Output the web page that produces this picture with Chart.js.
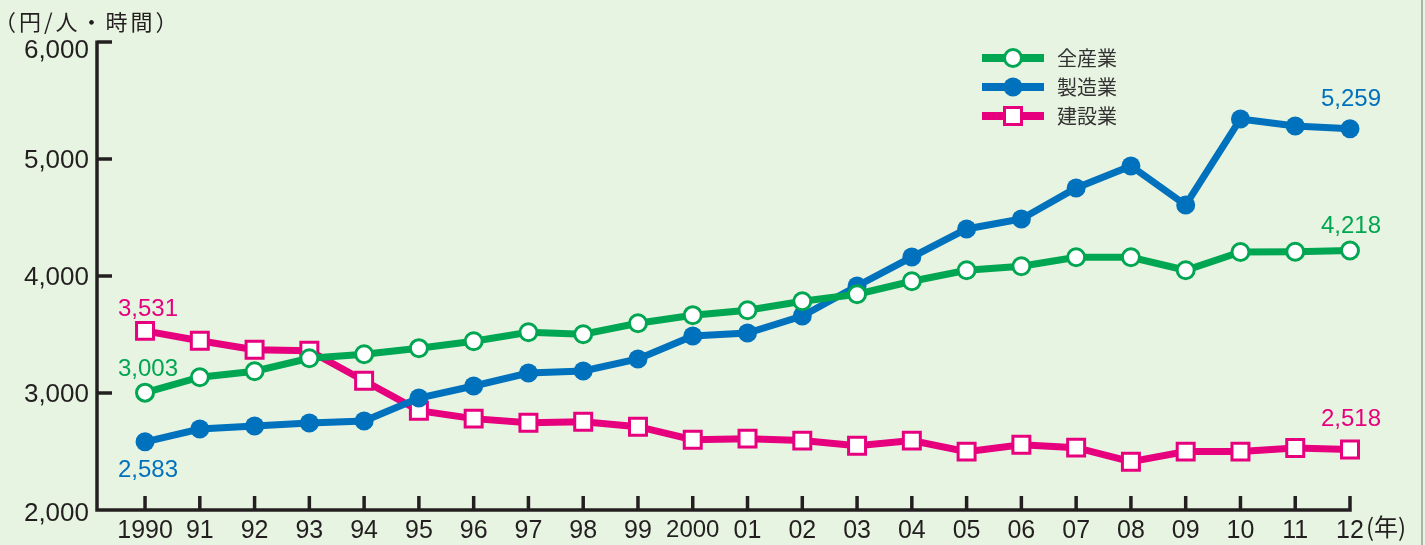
<!DOCTYPE html>
<html lang="ja">
<head>
<meta charset="utf-8">
<title>労働生産性の推移</title>
<script src="https://cdn.jsdelivr.net/npm/chart.js@4"></script>
<style>
  html, body { margin: 0; padding: 0; background: #e8f4e2; }
  #wrap { position: relative; width: 1425px; height: 545px; }
  #wrap::after { content: ""; position: absolute; top: 0; right: 2px; width: 2px; height: 100%; background: #a9b3a6; }
</style>
</head>
<body>
<div id="wrap"><canvas id="chart"></canvas></div>
<script>
/* Labour productivity per hour, yen — all industries / manufacturing / construction. */

const YEARS = [1990, 1991, 1992, 1993, 1994, 1995, 1996, 1997, 1998, 1999, 2000, 2001,
               2002, 2003, 2004, 2005, 2006, 2007, 2008, 2009, 2010, 2011, 2012];
const YEAR_LABELS = ["1990", "91", "92", "93", "94", "95", "96", "97", "98", "99", "2000", "01",
                     "02", "03", "04", "05", "06", "07", "08", "09", "10", "11", "12"];
const ALL_INDUSTRY  = [3003, 3135, 3186, 3297, 3331, 3383, 3442, 3519, 3502, 3596, 3665, 3707,
                       3784, 3844, 3955, 4049, 4083, 4160, 4160, 4049, 4205, 4207, 4218];
const MANUFACTURING = [2583, 2692, 2718, 2744, 2761, 2957, 3060, 3171, 3188, 3291, 3487, 3513,
                       3658, 3915, 4162, 4402, 4487, 4752, 4940, 4607, 5342, 5282, 5259];
const CONSTRUCTION  = [3531, 3447, 3370, 3362, 3105, 2849, 2781, 2746, 2755, 2712, 2601, 2610,
                       2593, 2550, 2593, 2499, 2558, 2533, 2413, 2499, 2499, 2530, 2518];
const SERIES_NAMES = ["全産業", "製造業", "建設業"];
const Y_TICKS = [2000, 3000, 4000, 5000, 6000];
const Y_UNIT = "（円/人・時間）";
const X_UNIT = "(年)";

const INK = "#231f20";
const GREEN = "#00a651";
const BLUE = "#0071bc";
const PINK = "#e6007e";
const NUM_FONT = "'Liberation Sans', Arial, Helvetica, sans-serif";
const NARROW_FONT = "'Liberation Sans Narrow', 'Liberation Sans', Arial, sans-serif";
const JP_FONT = "'Noto Sans CJK JP', 'Noto Sans', sans-serif";

const fmt = (v) => v.toLocaleString("en-US");
const pts = (vals) => YEARS.map((y, i) => ({ x: y, y: vals[i] }));

// axis lines with inward ticks, plus the y tick labels (top one sits a bit lower in the print)
const axesPlugin = {
  id: "axes",
  beforeDatasetsDraw(chart) {
    const { ctx, chartArea: a, scales: { x, y } } = chart;
    ctx.save();
    ctx.strokeStyle = INK;
    ctx.lineWidth = 3.5;
    ctx.lineCap = "butt";
    ctx.beginPath();
    ctx.moveTo(a.left, y.getPixelForValue(6000) - 1.5);
    ctx.lineTo(a.left, a.bottom + 1.75);
    ctx.moveTo(a.left - 1.75, a.bottom);
    ctx.lineTo(x.getPixelForValue(YEARS[YEARS.length - 1]) + 1.75, a.bottom);
    Y_TICKS.slice(1).forEach((v) => {
      const py = y.getPixelForValue(v);
      ctx.moveTo(a.left, py);
      ctx.lineTo(a.left + 15, py);
    });
    YEARS.forEach((yr) => {
      const px = x.getPixelForValue(yr);
      ctx.moveTo(px, a.bottom);
      ctx.lineTo(px, a.bottom - 14);
    });
    ctx.stroke();

    ctx.fillStyle = INK;
    ctx.font = `26px ${NUM_FONT}`;
    ctx.textAlign = "right";
    ctx.textBaseline = "middle";
    Y_TICKS.forEach((v, i) => {
      const dy = i === Y_TICKS.length - 1 ? 9 : (i === 0 ? 4 : 1.5);
      ctx.fillText(fmt(v), a.left - 8, y.getPixelForValue(v) + dy);
    });
    ctx.restore();
  },
};

// first / last values written next to the points
const valueLabels = {
  id: "valueLabels",
  afterDatasetsDraw(chart) {
    const { ctx } = chart;
    const offs = [[-23, -24], [29, -29], [-21, -30]];
    ctx.save();
    ctx.font = `24px ${NUM_FONT}`;
    ctx.textAlign = "center";
    ctx.textBaseline = "middle";
    chart.data.datasets.forEach((ds, i) => {
      const meta = chart.getDatasetMeta(i);
      const first = meta.data[0], last = meta.data[meta.data.length - 1];
      ctx.fillStyle = ds.borderColor;
      ctx.fillText(fmt(ds.data[0].y), first.x + 3, first.y + offs[i][0]);
      ctx.fillText(fmt(ds.data[ds.data.length - 1].y), last.x + 1, last.y + offs[i][1]);
    });
    ctx.restore();
  },
};

// legend block in the upper right, plus unit captions
const legendAndUnits = {
  id: "legendAndUnits",
  afterDraw(chart) {
    const { ctx, chartArea: a } = chart;
    ctx.save();
    chart.data.datasets.forEach((ds, i) => {
      const cy = 58 + i * 29, cx = 1013;
      ctx.strokeStyle = ds.borderColor;
      ctx.lineWidth = 8;
      ctx.beginPath();
      ctx.moveTo(982, cy);
      ctx.lineTo(1044, cy);
      ctx.stroke();
      ctx.fillStyle = ds.pointBackgroundColor;
      ctx.lineWidth = ds.pointBorderWidth;
      ctx.beginPath();
      if (ds.pointStyle === "rect") ctx.rect(cx - 8.5, cy - 8.5, 17, 17);
      else ctx.arc(cx, cy, ds.pointRadius, 0, Math.PI * 2);
      ctx.fill();
      if (ds.pointBorderWidth) ctx.stroke();
      ctx.fillStyle = "#333";
      ctx.font = `20px ${JP_FONT}`;
      ctx.textAlign = "left";
      ctx.textBaseline = "middle";
      ctx.fillText(ds.label, 1057, cy);
    });
    ctx.fillStyle = INK;
    ctx.textBaseline = "middle";
    ctx.font = `22px ${JP_FONT}`;
    ctx.letterSpacing = "3px";
    ctx.fillText(Y_UNIT, -6, 22);
    ctx.letterSpacing = "0px";
    ctx.font = `24px ${JP_FONT}`;
    ctx.fillText(X_UNIT, 1366, a.bottom + 17);
    ctx.restore();
  },
};

new Chart(document.getElementById("chart"), {
  type: "line",
  data: {
    datasets: [
      { label: SERIES_NAMES[0], data: pts(ALL_INDUSTRY), borderColor: GREEN, borderWidth: 7,
        pointStyle: "circle", pointRadius: 8.5, pointBorderWidth: 3, clip: false,
        pointBackgroundColor: "#fff", pointBorderColor: GREEN },
      { label: SERIES_NAMES[1], data: pts(MANUFACTURING), borderColor: BLUE, borderWidth: 7,
        pointStyle: "circle", pointRadius: 9.5, pointBorderWidth: 0, clip: false,
        pointBackgroundColor: BLUE, pointBorderColor: BLUE },
      { label: SERIES_NAMES[2], data: pts(CONSTRUCTION), borderColor: PINK, borderWidth: 7,
        pointStyle: "rect", pointRadius: 12, pointBorderWidth: 3, clip: false,
        pointBackgroundColor: "#fff", pointBorderColor: PINK },
    ],
  },
  options: {
    responsive: true,
    maintainAspectRatio: false,
    animation: false,
    layout: { padding: { top: 42, right: 75, left: 0, bottom: 0 } },
    elements: { line: { tension: 0 } },
    plugins: { legend: { display: false }, tooltip: { enabled: false } },
    scales: {
      x: {
        type: "linear",
        min: 1989.123,
        max: 2012,
        grid: { display: false, drawTicks: false },
        border: { display: false },
        afterBuildTicks: (s) => { s.ticks = YEARS.map((v) => ({ value: v })); },
        afterFit: (s) => { s.height = 35; },
        ticks: {
          autoSkip: false,
          maxRotation: 0,
          padding: 6,
          color: INK,
          font: (c) => (c.tick && c.tick.value === 2000
            ? { family: NARROW_FONT, size: 24 }
            : { family: NUM_FONT, size: 25 }),
          callback: (v) => YEAR_LABELS[YEARS.indexOf(v)],
        },
      },
      y: {
        min: 2000,
        max: 6000,
        grid: { display: false, drawTicks: false },
        border: { display: false },
        afterBuildTicks: (s) => { s.ticks = Y_TICKS.map((v) => ({ value: v })); },
        afterFit: (s) => { s.width = 97; },
        ticks: { display: false },
      },
    },
  },
  plugins: [axesPlugin, valueLabels, legendAndUnits],
});
</script>
</body>
</html>
